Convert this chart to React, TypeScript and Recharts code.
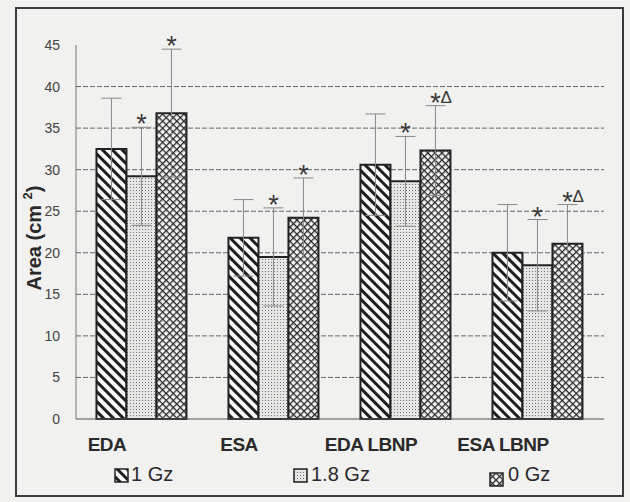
import { BarChart, Bar, XAxis, YAxis, CartesianGrid, ErrorBar, LabelList } from "recharts";

const categories = ["EDA", "ESA", "EDA LBNP", "ESA LBNP"];
const gz1 = [32.5, 21.8, 30.6, 20.0];
const gz18 = [29.2, 19.5, 28.6, 18.5];
const gz0 = [36.8, 24.2, 32.3, 21.1];
const err1 = [6.1, 4.6, 6.1, 5.8];
const err18 = [5.9, 5.9, 5.4, 5.5];
const err0 = [7.7, 4.8, 5.4, 4.7];
const sig18 = ["*", "*", "*", "*"];
const sig0 = ["*", "*", "*Δ", "*Δ"];
const yTicks = [0, 5, 10, 15, 20, 25, 30, 35, 40, 45];
const gridValues = [5, 10, 15, 20, 25, 30, 35, 40];

const data = categories.map((cat, i) => ({
  cat,
  g1: gz1[i],
  e1: err1[i],
  g18: gz18[i],
  e18: err18[i],
  s18: sig18[i],
  g0: gz0[i],
  e0: err0[i],
  s0: sig0[i],
}));

const FONT = "'Liberation Sans', Arial, sans-serif";

const Patterns = ({ suffix = "" }: { suffix?: string }) => (
  <defs>
    <pattern id={"stripe" + suffix} patternUnits="userSpaceOnUse" width="7" height="7" patternTransform="rotate(-45)">
      <rect width="7" height="7" fill="#fafafa" />
      <rect x="0" y="0" width="3" height="7" fill="#1e1e1e" />
    </pattern>
    <pattern id={"dots" + suffix} patternUnits="userSpaceOnUse" width="3" height="3">
      <rect width="3" height="3" fill="#e6e6e4" />
      <rect x="1" y="1" width="1" height="1" fill="#777" />
    </pattern>
    <pattern id={"cross" + suffix} patternUnits="userSpaceOnUse" width="5" height="5" patternTransform="rotate(45)">
      <rect width="5" height="5" fill="#f6f6f4" />
      <rect x="0" y="0" width="1.3" height="5" fill="#2a2a2a" />
      <rect x="0" y="0" width="5" height="1.3" fill="#2a2a2a" />
    </pattern>
  </defs>
);

// asterisk / delta placed above the error bar cap
const sigLabel = (means: number[], errs: number[]) => (props: any) => {
  const { x, y, width, height, value, index } = props;
  if (!value) return null;
  const ppu = height / means[index];
  const capY = y - errs[index] * ppu;
  const cx = x + width / 2;
  const cy = capY - 9;
  return (
    <g key={"sig" + index}>
      <text x={cx} y={cy + 15} textAnchor="middle" fontFamily={FONT} fontSize={27} fill="#3a3a3a">
        *
      </text>
      {value.includes("Δ") && (
        <text x={cx + 5} y={cy + 6} textAnchor="start" fontFamily={FONT} fontSize={17} fill="#3a3a3a">
          Δ
        </text>
      )}
    </g>
  );
};

const XTick = (props: any) => {
  const { x, y, payload } = props;
  return (
    <text x={x - 35} y={y + 24} textAnchor="middle" fontFamily={FONT} fontSize={19} fontWeight="bold" fill="#2a2a2a" letterSpacing={-0.5}>
      {payload.value}
    </text>
  );
};

const YLabel = () => (
  <text
    x={34}
    y={238}
    transform="rotate(-90, 34, 238)"
    textAnchor="middle"
    dominantBaseline="central"
    fontFamily={FONT}
    fontSize={20}
    fontWeight="bold"
    fill="#2a2a2a"
  >
    Area (cm <tspan dy={-7} fontSize={13}>2</tspan>
    <tspan dy={7}>)</tspan>
  </text>
);

const legendItems = [
  { name: "1 Gz", fill: "stripe", ix: 114, iy: 468, tx: 131 },
  { name: "1.8 Gz", fill: "dots", ix: 293, iy: 468, tx: 311 },
  { name: "0 Gz", fill: "cross", ix: 489, iy: 472, tx: 508 },
];

export default function App() {
  return (
    <div style={{ position: "absolute", left: 0, top: 0, width: 630, height: 502, background: "#f1f1ef", overflow: "hidden" }}>
      <div
        style={{
          position: "absolute",
          left: 15,
          top: 7,
          width: 605,
          height: 486,
          border: "2px solid #3a3a3a",
        }}
      />
      <div style={{ position: "absolute", left: 0, top: 0 }}>
        <BarChart
          width={630}
          height={502}
          data={data}
          margin={{ top: 45, right: 26, bottom: 53, left: 36 }}
          barCategoryGap="15.5%"
          barGap={0}
        >
          <Patterns />
          <CartesianGrid vertical={false} stroke="#666" strokeDasharray="5 2" horizontalValues={gridValues} />
          <XAxis
            dataKey="cat"
            height={30}
            axisLine={{ stroke: "#555", strokeWidth: 1.2 }}
            tickLine={false}
            tick={<XTick />}
            interval={0}
          />
          <YAxis
            width={40}
            domain={[0, 45]}
            ticks={yTicks}
            interval={0}
            axisLine={{ stroke: "#777" }}
            tickLine={false}
            tickMargin={10}
            tick={{ fontFamily: FONT, fontSize: 14, fill: "#444" }}
            label={YLabel}
          />
          <Bar dataKey="g1" name="1 Gz" fill="url(#stripe)" stroke="#222" strokeWidth={2} isAnimationActive={false}>
            <ErrorBar dataKey="e1" width={10} stroke="#888" strokeWidth={1} direction="y" />
          </Bar>
          <Bar dataKey="g18" name="1.8 Gz" fill="url(#dots)" stroke="#222" strokeWidth={2} isAnimationActive={false}>
            <ErrorBar dataKey="e18" width={10} stroke="#888" strokeWidth={1} direction="y" />
            <LabelList dataKey="s18" content={sigLabel(gz18, err18)} />
          </Bar>
          <Bar dataKey="g0" name="0 Gz" fill="url(#cross)" stroke="#222" strokeWidth={2} isAnimationActive={false}>
            <ErrorBar dataKey="e0" width={10} stroke="#888" strokeWidth={1} direction="y" />
            <LabelList dataKey="s0" content={sigLabel(gz0, err0)} />
          </Bar>
        </BarChart>
      </div>
      {legendItems.map((it) => (
        <div key={it.name}>
          <svg style={{ position: "absolute", left: it.ix, top: it.iy }} width={15} height={15}>
            <Patterns suffix={"-lg"} />
            <rect x={1} y={1} width={13} height={13} fill={`url(#${it.fill}-lg)`} stroke="#222" strokeWidth={1.5} />
          </svg>
          <div
            style={{
              position: "absolute",
              left: it.tx,
              top: 464,
              fontFamily: FONT,
              fontSize: 20,
              lineHeight: "20px",
              color: "#2a2a2a",
              whiteSpace: "nowrap",
            }}
          >
            {it.name}
          </div>
        </div>
      ))}
    </div>
  );
}
